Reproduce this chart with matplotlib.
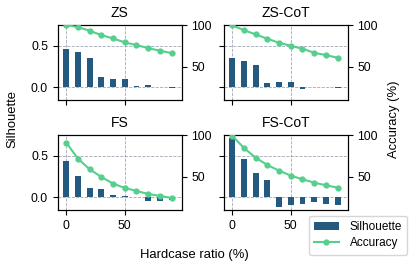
import matplotlib
matplotlib.use('Agg')
import matplotlib.pyplot as plt
import numpy as np

plt.rcParams['font.family'] = ['Liberation Sans', 'DejaVu Sans']

ratios = [0, 10, 20, 30, 40, 50, 60, 70, 80, 90]
titles = ['ZS', 'ZS-CoT', 'FS', 'FS-CoT']

silhouette = {
    'ZS':     [0.464, 0.42, 0.353, 0.123, 0.107, 0.099, 0.02, 0.032, 0.0, -0.005],
    'ZS-CoT': [0.357, 0.321, 0.274, 0.056, 0.063, 0.06, -0.024, 0.0, 0.0, -0.008],
    'FS':     [0.436, 0.256, 0.108, 0.096, 0.032, 0.02, 0.008, -0.04, -0.044, -0.032],
    'FS-CoT': [0.712, 0.464, 0.288, 0.204, -0.112, -0.088, -0.084, -0.056, -0.076, -0.088],
}
accuracy = {
    'ZS':     [100.0, 97.6, 93.2, 88.0, 84.0, 79.2, 76.0, 72.4, 69.2, 66.4],
    'ZS-CoT': [99.6, 94.0, 88.8, 83.6, 78.8, 75.2, 71.6, 66.8, 64.0, 60.8],
    'FS':     [90.8, 71.6, 58.8, 49.6, 41.6, 36.4, 32.8, 29.2, 26.8, 24.4],
    'FS-CoT': [99.2, 84.4, 72.8, 64.0, 57.2, 51.2, 46.8, 42.8, 39.6, 36.8],
}

bar_color = '#245a80'
line_color = '#55cf8e'

fig, axs = plt.subplots(2, 2, figsize=(4.16, 2.73), dpi=100, sharex=True, sharey=True)
fig.subplots_adjust(left=0.139, right=0.836, bottom=0.231, top=0.908, wspace=0.339, hspace=0.467)

for ax, t in zip(axs.flat, titles):
    b = ax.bar(ratios, silhouette[t], width=5, color=bar_color, zorder=2, label='Silhouette')
    ax.set_title(t, fontsize=10, pad=5.5)
    ax.set_ylim(-0.15, 0.745)
    ax.set_xlim(-7.2, 98.7)
    ax.set_yticks([0.0, 0.5])
    ax.set_xticks([0, 50])
    ax.grid(True, ls='--', lw=0.6, color='#8a93a0', alpha=0.8)
    ax.tick_params(labelsize=8.8, length=3.5, width=0.8)
    ax2 = ax.twinx()
    l, = ax2.plot(ratios, accuracy[t], '-o', color=line_color, lw=1.5, ms=3.5, label='Accuracy', zorder=3)
    ax2.set_ylim(10, 100)
    ax2.set_yticks([50, 100])
    ax2.tick_params(labelsize=8.8, length=3.5, width=0.8)

# shared axis labels
fig.text(0.031, 0.564, 'Silhouette', rotation=90, ha='center', va='center', fontsize=9.4)
fig.text(0.948, 0.564, 'Accuracy (%)', rotation=90, ha='center', va='center', fontsize=9.4)
fig.text(0.4675, 0.065, 'Hardcase ratio (%)', ha='center', va='center', fontsize=9.4)

fig.legend([b, l], ['Silhouette', 'Accuracy'], loc='lower right',
           bbox_to_anchor=(0.993, 0.045), fontsize=8.5, frameon=True,
           handlelength=2.1, handletextpad=0.9, borderpad=0.45, labelspacing=0.35)

fig.savefig('out.png', dpi=100)
